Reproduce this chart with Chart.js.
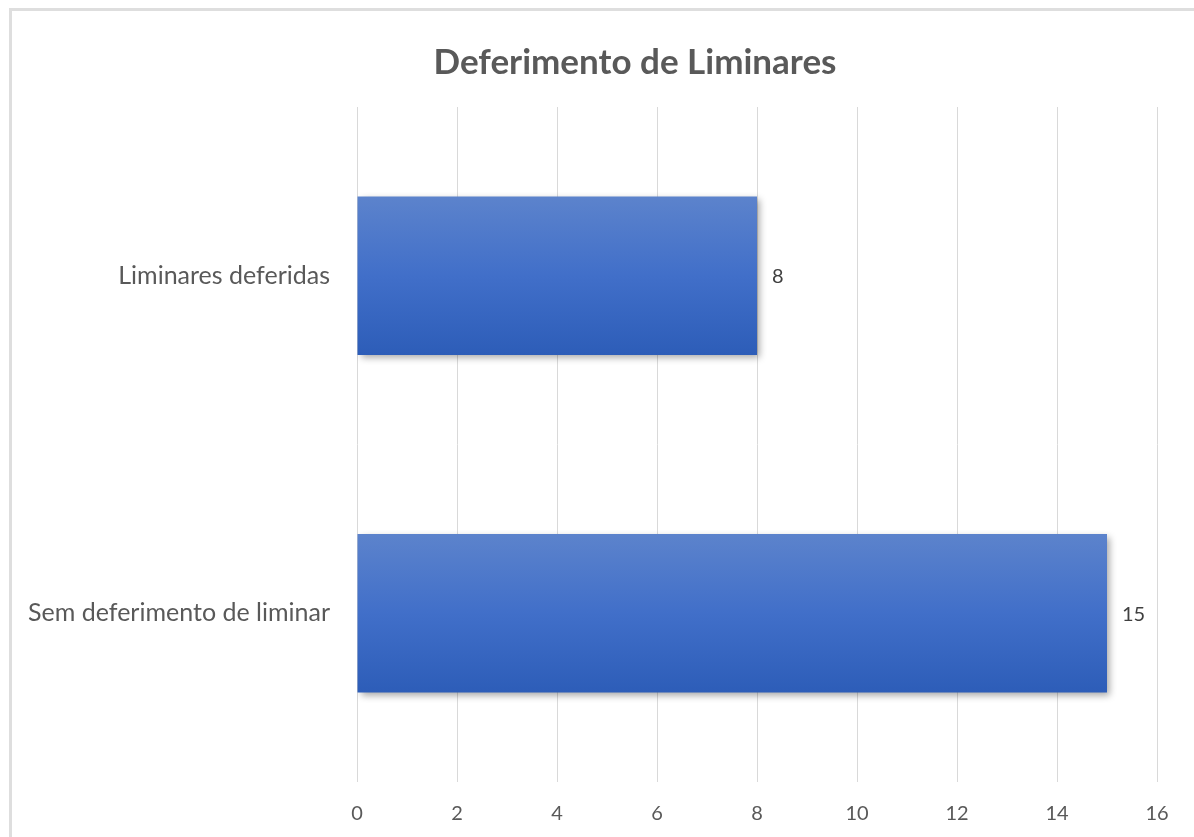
<!DOCTYPE html>
<html>
<head>
<meta charset="utf-8">
<script src="https://cdn.jsdelivr.net/npm/chart.js@4.4.0/dist/chart.umd.min.js"></script>
<style>
  html, body { margin: 0; padding: 0; background: #fff; }
  #wrap { position: relative; width: 1194px; height: 837px; overflow: hidden; }
  #frame { position: absolute; left: 9px; top: 8px; width: 1300px; height: 1000px; border: 3px solid #dedede; box-sizing: border-box; }
  #mycanvas { position: absolute; left: 0; top: 0; }
</style>
</head>
<body>
<div id="wrap">
  <div id="frame"></div>
  <canvas id="mycanvas" width="1194" height="837"></canvas>
</div>
<script>
var titleText = 'Deferimento de Liminares';
var categories = ['Liminares deferidas', 'Sem deferimento de liminar'];
var counts = [8, 15];
var xTicks = [0, 2, 4, 6, 8, 10, 12, 14, 16];

var fontName = 'Lato, "Open Sans", sans-serif';
var barPct = 0.47;

// vertical gradient for each bar, built from the y scale
function barFill(c)
{
	var chart = c.chart;
	var area = chart.chartArea;
	if (!area || !chart.scales.y) return '#3f6fc8';
	var cy = chart.scales.y.getPixelForValue(c.dataIndex);
	var h = (area.bottom - area.top) / categories.length * barPct;
	var g = chart.ctx.createLinearGradient(0, cy - h / 2, 0, cy + h / 2);
	g.addColorStop(0, '#5c83cc');
	g.addColorStop(0.5, '#416fc9');
	g.addColorStop(1, '#2d5db8');
	return g;
}

// title in the original sits a bit right of the canvas centre
var titleShift = {
	id: 'titleShift',
	afterLayout: function(chart)
	{
		if (chart.titleBlock) {
			chart.titleBlock.left = 113;
			chart.titleBlock.right = 1157;
		}
	}
};

var shadowPlugin = {
	id: 'barShadow',
	beforeDatasetsDraw: function(chart)
	{
		var ctx = chart.ctx;
		ctx.save();
		ctx.shadowColor = 'rgba(0,0,0,0.35)';
		ctx.shadowBlur = 7;
		ctx.shadowOffsetX = 3;
		ctx.shadowOffsetY = 3;
	},
	afterDatasetsDraw: function(chart)
	{
		chart.ctx.restore();
	}
};

var valueLabels = {
	id: 'valueLabels',
	afterDraw: function(chart)
	{
		var ctx = chart.ctx;
		var meta = chart.getDatasetMeta(0);
		ctx.save();
		ctx.font = '20px ' + fontName;
		ctx.fillStyle = '#404040';
		ctx.textAlign = 'left';
		ctx.textBaseline = 'middle';
		meta.data.forEach(function(bar, i)
		{
			ctx.fillText(String(counts[i]), bar.x + 15, bar.y + 1);
		});
		ctx.restore();
	}
};

var ctx = document.getElementById('mycanvas');
var barGraph = new Chart(ctx, {
	type: 'bar',
	data: {
		labels: categories,
		datasets: [{
			label: 'Quantidade',
			data: counts,
			backgroundColor: barFill,
			borderWidth: 0,
			categoryPercentage: 1,
			barPercentage: barPct
		}]
	},
	options: {
		indexAxis: 'y',
		responsive: false,
		animation: false,
		layout: { padding: { left: 0, right: 37, top: 0, bottom: 0 } },
		plugins: {
			legend: { display: false },
			tooltip: { enabled: false },
			title: {
				display: true,
				text: titleText,
				color: '#595959',
				font: { family: fontName, size: 35, weight: 'bold' },
				padding: { top: 42, bottom: 23 }
			}
		},
		scales: {
			x: {
				min: 0,
				max: 16,
				afterBuildTicks: function(axis)
				{
					axis.ticks = xTicks.map(function(v) { return { value: v }; });
				},
				afterFit: function(axis) { axis.height = 55; },
				grid: { color: '#d9d9d9', lineWidth: 1, drawTicks: false },
				border: { display: false },
				ticks: { color: '#595959', padding: 20, font: { family: fontName, size: 20 } }
			},
			y: {
				afterFit: function(axis) { axis.width = 357; },
				grid: { display: false, drawTicks: false },
				border: { display: false },
				ticks: { color: '#595959', padding: 27, font: { family: fontName, size: 25 } }
			}
		}
	},
	plugins: [titleShift, shadowPlugin, valueLabels]
});
barGraph.render();
</script>
</body>
</html>
